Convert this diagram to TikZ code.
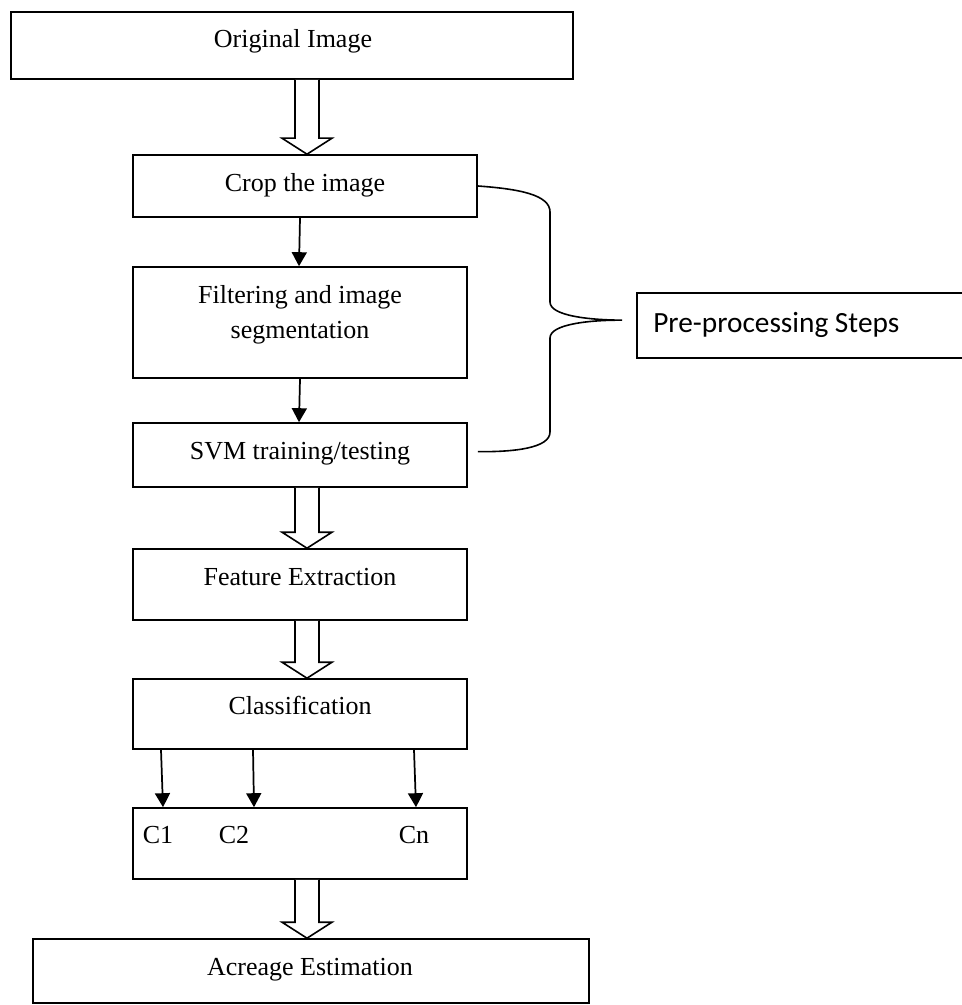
\documentclass[tikz,border=0pt]{standalone}
\usepackage{fontspec}
\setmainfont{Liberation Serif}
\newfontfamily\calibfont{Carlito}
\usetikzlibrary{arrows.meta,calc}
\def\hollowcx{230.25pt}
\newcommand\hollowarr[2]{%
  \draw[hollow] let \p1=(#1.south), \p2=(#2.north) in
    (\hollowcx-9pt,\y1) -- (\hollowcx-9pt,\y2+12pt) -- (\hollowcx-18.75pt,\y2+12pt)
    -- (\hollowcx,\y2) -- (\hollowcx+18.75pt,\y2+12pt) -- (\hollowcx+9pt,\y2+12pt)
    -- (\hollowcx+9pt,\y1);}
\tikzset{
  box/.style={draw, line width=1.2pt, inner sep=0pt},
  lbl/.style={inner sep=0pt, anchor=base, font=\fontsize{19.5}{26.25}\selectfont, align=center},
  hollow/.style={draw, line width=1.2pt, fill=white, line join=miter},
  arr/.style={line width=1.3pt, -{Triangle[length=10.5pt,width=11.25pt]}},
  brace/.style={line width=1.2pt}
}
\begin{document}
\begin{tikzpicture}[x=0.75pt,y=-0.75pt]
\useasboundingbox (0,0) rectangle (961,1005);
% boxes
\node[box, minimum width=421.5pt, minimum height=50.25pt] (orig) at (292,45.5) {};
\node[box, minimum width=258pt, minimum height=46.5pt] (crop) at (305,186) {};
\node[box, minimum width=250.5pt, minimum height=83.25pt] (filt) at (300,322.5) {};
\node[box, minimum width=250.5pt, minimum height=48pt] (svm) at (300,455) {};
\node[box, minimum width=250.5pt, minimum height=53.25pt] (feat) at (300,584.5) {};
\node[box, minimum width=250.5pt, minimum height=52.5pt] (cls) at (300,714) {};
\node[box, minimum width=250.5pt, minimum height=53.25pt] (cbox) at (300,843.5) {};
\node[box, minimum width=417pt, minimum height=48pt] (acre) at (311,971) {};
\node[box, minimum width=244.5pt, minimum height=48.75pt] (pre) at (800,325.5) {};
% texts
\node[lbl] (torig) at (293,48) {Original Image};
\node[lbl] (tcrop) at (305,192) {Crop the image};
\node[lbl] (tfilt) at (300,338) {Filtering and image\\segmentation};
\node[lbl] (tsvm) at (300,459) {SVM training/testing};
\node[lbl] (tfeat) at (300,585) {Feature Extraction};
\node[lbl] (tcls) at (300,714) {Classification};
\node[lbl] (tc1) at (158,843) {C1};
\node[lbl] (tc2) at (234,843) {C2};
\node[lbl] (tcn) at (414,843) {Cn};
\node[lbl] (tacre) at (310,975) {Acreage Estimation};
\node[inner sep=0pt, anchor=base west, font=\calibfont\fontsize{22}{26}\selectfont] (tpre) at (653,332) {Pre-processing Steps};
% hollow arrows
\hollowarr{orig}{crop}
\hollowarr{svm}{feat}
\hollowarr{feat}{cls}
\hollowarr{cbox}{acre}
% thin arrows
\draw[arr] ([xshift=-3.75pt]crop.south) -- ([xshift=-0.75pt]filt.north);
\draw[arr] (filt.south) -- ([xshift=-0.75pt]svm.north);
\draw[arr] ([xshift=-104.25pt]cls.south) -- ([xshift=-102.75pt]cbox.north);
\draw[arr] ([xshift=-35.25pt]cls.south) -- ([xshift=-34.5pt]cbox.north);
\draw[arr] ([xshift=85.5pt]cls.south) -- ([xshift=87pt]cbox.north);
% brace
\draw[brace] (crop.east) .. controls (520,189) and (550,195) .. (550,212)
  -- (550,302) .. controls (550,316) and (590,320) .. ([xshift=-10.5pt,yshift=4pt]pre.west)
  .. controls (590,320) and (550,324) .. (550,338)
  -- (550,432) .. controls (550,448) and (515,452) .. ([xshift=7.5pt,yshift=2.5pt]svm.east);
\end{tikzpicture}
\end{document}
